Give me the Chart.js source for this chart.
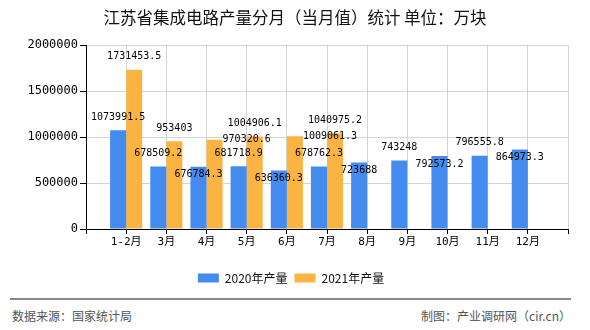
<!DOCTYPE html>
<html>
<head>
<meta charset="utf-8">
<script src="https://cdn.jsdelivr.net/npm/chart.js@4.4.1/dist/chart.umd.min.js"></script>
<style>
  body { margin: 0; background: #fff; }
  #wrap { position: relative; width: 590px; height: 330px; font-family: "Noto Sans CJK SC", sans-serif; }
  #title { position: absolute; top: 7px; left: 0; width: 590px; text-align: center; font-size: 16.5px; line-height: 20px; color: #111; }
  #chart { position: absolute; left: 0; top: 0; }
  #foot { position: absolute; left: 10px; top: 298px; width: 561px; border-top: 2px solid #888; }
  .src { position: absolute; top: 8px; font-size: 12px; line-height: 16px; color: #555; white-space: nowrap; }
</style>
</head>
<body>
<div id="wrap">
  <canvas id="chart" width="590" height="300"></canvas>
  <div id="title">江苏省集成电路产量分月（当月值）统计 单位：万块</div>
  <div id="foot">
    <span class="src" style="left:2px">数据来源：国家统计局</span>
    <span class="src" style="right:0">制图：产业调研网（cir.cn）</span>
  </div>
</div>
<script>
// months on the x axis
const months = ['1-2月', '3月', '4月', '5月', '6月', '7月', '8月', '9月', '10月', '11月', '12月'];
// monthly output, 万块
const output2020 = [1073991.5, 678509.2, 676784.3, 681718.9, 636360.3, 678762.3, 723688, 743248, 792573.2, 796555.8, 864973.3];
const output2021 = [1731453.5, 953403, 970320.6, 1004906.1, 1009061.3, 1040975.2];
const seriesNames = ['2020年产量', '2021年产量'];
const yMax = 2000000;
const yStep = 500000;

// the axis leaves one empty slot on each side of the months
function padSeries(arr) {
  let out = [null];
  for (let i = 0; i < months.length; i++) out.push(i < arr.length ? arr[i] : null);
  out.push(null);
  return out;
}

// value labels, moved below or beside the bar when they would overlap
const barLabels = {
  id: 'barLabels',
  afterDatasetsDraw(chart) {
    const ctx = chart.ctx;
    ctx.save();
    ctx.font = '10px "DejaVu Sans Mono", monospace';
    ctx.fillStyle = '#000';
    ctx.textAlign = 'left';
    ctx.textBaseline = 'middle';
    let placed = [];
    const hits = (r) => placed.some(p => r.x1 < p.x2 && r.x2 > p.x1 && r.y1 < p.y2 && r.y2 > p.y1);
    chart.data.datasets.forEach((ds, di) => {
      chart.getDatasetMeta(di).data.forEach((bar, i) => {
        const v = ds.data[i];
        if (v == null) return;
        const text = String(v);
        const w = ctx.measureText(text).width;
        const h = 12;
        const spots = [
          { x: bar.x - w / 2, y: bar.y - 13 },
          { x: bar.x - w / 2, y: bar.y + 8 },
          { x: bar.x + bar.width / 2, y: bar.y }
        ].map(s => ({ x1: s.x, x2: s.x + w, y1: s.y - h / 2, y2: s.y + h / 2 }));
        const r = spots.find(s => !hits(s)) || spots[2];
        placed.push(r);
        ctx.fillText(text, r.x1, (r.y1 + r.y2) / 2);
      });
    });
    ctx.restore();
  }
};

// legend sits a little right of the plot centre in the original
const legendShift = {
  id: 'legendShift',
  afterLayout(chart) {
    chart.legend.left += 7;
    chart.legend.right += 7;
  }
};

const tickFont = { family: '"DejaVu Sans Mono", "Noto Sans CJK SC", monospace', size: 12 };

new Chart(document.getElementById('chart'), {
  type: 'bar',
  data: {
    labels: ['', ...months, ''],
    datasets: [
      { label: seriesNames[0], data: padSeries(output2020), backgroundColor: '#438bee' },
      { label: seriesNames[1], data: padSeries(output2021), backgroundColor: '#fbb441' }
    ]
  },
  options: {
    responsive: false,
    animation: false,
    categoryPercentage: 0.8,
    barPercentage: 1.0,
    layout: { padding: { top: 45, right: 22, left: 0, bottom: 6 } },
    plugins: {
      tooltip: { enabled: false },
      legend: {
        position: 'bottom',
        labels: {
          boxWidth: 21, boxHeight: 9, padding: 7, color: '#111',
          font: { family: '"Noto Sans CJK SC", sans-serif', size: 12 }
        }
      }
    },
    scales: {
      x: {
        offset: false,
        grid: { color: '#d4d4d4', tickColor: '#000', tickLength: 5, offset: false },
        border: { color: '#000' },
        ticks: { autoSkip: false, maxRotation: 0, padding: 2, color: '#000', font: { ...tickFont, size: 11 } },
        afterFit: (s) => { s.height = 36; }
      },
      y: {
        min: 0, max: yMax,
        grid: { color: '#d4d4d4', tickColor: '#000', tickLength: 6 },
        border: { color: '#000' },
        ticks: { stepSize: yStep, padding: 2, color: '#000', font: tickFont, callback: (v) => String(v) },
        afterFit: (s) => { s.width = 86; }
      }
    }
  },
  plugins: [barLabels, legendShift]
});
</script>
</body>
</html>
